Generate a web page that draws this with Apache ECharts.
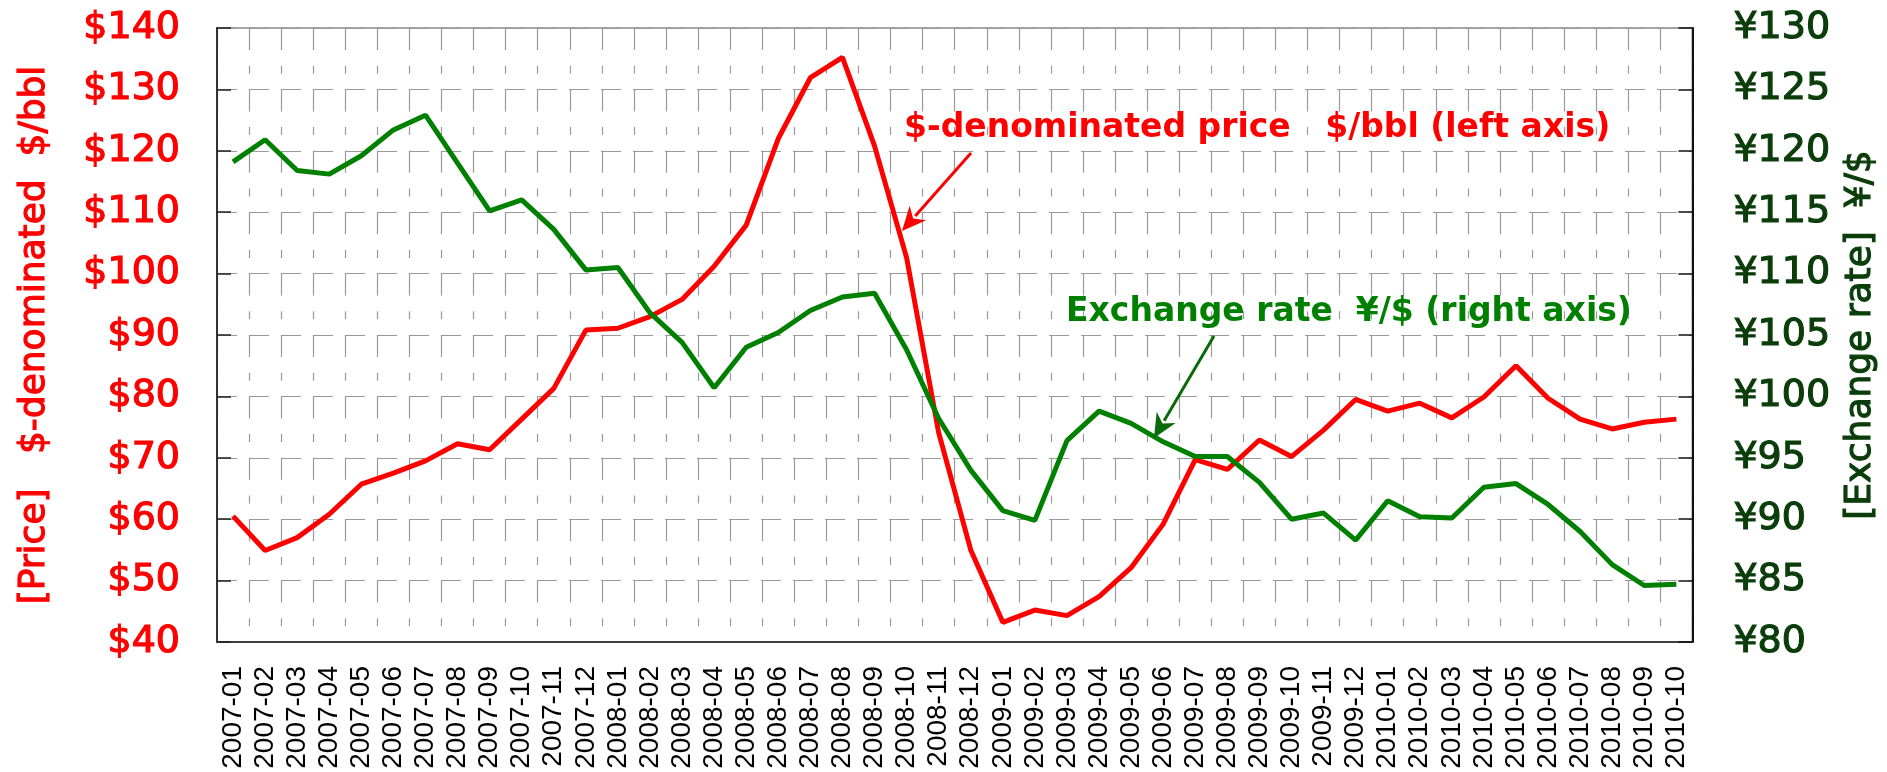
<!DOCTYPE html>
<html>
<head>
<meta charset="utf-8">
<script src="https://cdn.jsdelivr.net/npm/echarts@6/dist/echarts.min.js"></script>
<style>
  html, body { margin: 0; padding: 0; background: #fff; }
  #chart { width: 1887px; height: 772px; }
</style>
</head>
<body>
<div id="chart"></div>
<script>
// months on the x axis
var months = [
  "2007-01", "2007-02", "2007-03", "2007-04", "2007-05", "2007-06",
  "2007-07", "2007-08", "2007-09", "2007-10", "2007-11", "2007-12",
  "2008-01", "2008-02", "2008-03", "2008-04", "2008-05", "2008-06",
  "2008-07", "2008-08", "2008-09", "2008-10", "2008-11", "2008-12",
  "2009-01", "2009-02", "2009-03", "2009-04", "2009-05", "2009-06",
  "2009-07", "2009-08", "2009-09", "2009-10", "2009-11", "2009-12",
  "2010-01", "2010-02", "2010-03", "2010-04", "2010-05", "2010-06",
  "2010-07", "2010-08", "2010-09", "2010-10"
];

// $-denominated crude price, $/bbl (left axis)
var priceUsd = [
  60.5, 54.9, 57.0, 60.8, 65.7, 67.5, 69.5, 72.3, 71.3, 76.3, 81.3, 90.8,
  91.1, 93.0, 95.8, 101.2, 107.9, 122.0, 131.9, 135.2, 120.8, 102.6, 74.1, 55.0,
  43.2, 45.2, 44.3, 47.4, 52.1, 59.2, 69.7, 68.1, 72.9, 70.2, 74.5, 79.5,
  77.6, 78.9, 76.5, 79.9, 85.0, 79.7, 76.3, 74.7, 75.8, 76.3
];

// exchange rate, yen per dollar (right axis)
var yenPerUsd = [
  119.1, 120.9, 118.4, 118.1, 119.6, 121.7, 122.9, 119.0, 115.1, 116.0, 113.6, 110.3,
  110.5, 106.8, 104.4, 100.7, 104.0, 105.2, 107.0, 108.1, 108.4, 103.8, 98.2, 94.0,
  90.7, 89.9, 96.4, 98.8, 97.8, 96.3, 95.1, 95.1, 93.0, 90.0, 90.5, 88.3,
  91.5, 90.2, 90.1, 92.6, 92.9, 91.2, 89.0, 86.3, 84.6, 84.7
];

// axis ranges
var priceAxis = { min: 40, max: 140, step: 10 };
var rateAxis = { min: 80, max: 130, step: 5 };

var RED = "#ff0000";
var GREEN = "#008000";
var DARK_GREEN = "#0b3d0b";

// arrow = line + filled head (for the annotations)
function arrow(x1, y1, x2, y2, color) {
  var dx = x2 - x1, dy = y2 - y1;
  var len = Math.sqrt(dx * dx + dy * dy);
  var ux = dx / len, uy = dy / len;
  var headLen = 24, headW = 11;
  var bx = x2 - ux * headLen, by = y2 - uy * headLen;
  var nx = -uy, ny = ux;
  return [
    {
      type: "line",
      shape: { x1: x1, y1: y1, x2: bx + ux * 4, y2: by + uy * 4 },
      style: { stroke: color, lineWidth: 3 },
      z: 100
    },
    {
      type: "polygon",
      shape: {
        points: [
          [x2, y2],
          [bx + nx * headW, by + ny * headW],
          [x2 - ux * headLen * 0.7, y2 - uy * headLen * 0.7],
          [bx - nx * headW, by - ny * headW]
        ]
      },
      style: { fill: color },
      z: 100
    }
  ];
}

var myChart = echarts.init(document.getElementById("chart"));

var option = {
  animation: false,
  backgroundColor: "#fff",
  grid: {
    left: 217,
    right: 193,
    top: 28,
    bottom: 130,
    show: true,
    borderColor: "#a6a6a6",
    borderWidth: 2
  },
  xAxis: {
    type: "category",
    data: months,
    boundaryGap: true,
    axisLine: { lineStyle: { color: "#404040", width: 2 } },
    axisTick: {
      inside: true,
      length: 9,
      interval: 0,
      lineStyle: { color: "#404040", width: 1.5 }
    },
    axisLabel: {
      rotate: 90,
      interval: 0,
      margin: 24,
      color: "#000",
      fontSize: 28,
      fontFamily: "Liberation Sans"
    },
    splitLine: {
      show: true,
      interval: 0,
      lineStyle: { color: "#9a9a9a", width: 1.2, type: [22, 15.7, 8, 15.7] }
    }
  },
  yAxis: [
    {
      type: "value",
      position: "left",
      min: priceAxis.min,
      max: priceAxis.max,
      interval: priceAxis.step,
      name: "[Price]   $-denominated  $/bbl",
      nameLocation: "middle",
      nameGap: 164,
      nameTextStyle: {
        color: RED,
        fontSize: 36,
        fontFamily: "DejaVu Sans",
        textBorderColor: RED,
        textBorderWidth: 1.2
      },
      axisLine: { show: true, lineStyle: { color: "#333", width: 2 } },
      axisTick: { show: true, inside: true, length: 14, lineStyle: { color: "#222", width: 1.5 } },
      axisLabel: {
        margin: 37,
        color: RED,
        fontSize: 38,
        fontFamily: "DejaVu Sans",
        textBorderColor: RED,
        textBorderWidth: 1.2,
        formatter: function (v) { return "$" + v; }
      },
      splitLine: {
        show: true,
        lineStyle: { color: "#9a9a9a", width: 1.2, type: [20, 12] }
      }
    },
    {
      type: "value",
      position: "right",
      min: rateAxis.min,
      max: rateAxis.max,
      interval: rateAxis.step,
      name: "[Exchange rate]  ¥/$",
      nameLocation: "middle",
      nameRotate: 90,
      nameGap: 150,
      nameTextStyle: {
        color: DARK_GREEN,
        fontSize: 36,
        fontFamily: "DejaVu Sans",
        textBorderColor: DARK_GREEN,
        textBorderWidth: 1.2
      },
      axisLine: { show: true, lineStyle: { color: "#111", width: 2 } },
      axisTick: { show: true, inside: true, length: 14, lineStyle: { color: "#111", width: 1.5 } },
      axisLabel: {
        margin: 41,
        color: DARK_GREEN,
        fontSize: 38,
        fontFamily: "DejaVu Sans",
        textBorderColor: DARK_GREEN,
        textBorderWidth: 1.2,
        formatter: function (v) { return "¥" + v; }
      },
      splitLine: { show: false }
    }
  ],
  series: [
    {
      name: "price",
      type: "line",
      yAxisIndex: 0,
      data: priceUsd,
      symbol: "none",
      lineStyle: { color: RED, width: 5 },
      itemStyle: { color: RED },
      z: 3
    },
    {
      name: "rate",
      type: "line",
      yAxisIndex: 1,
      data: yenPerUsd,
      symbol: "none",
      lineStyle: { color: GREEN, width: 5 },
      itemStyle: { color: GREEN },
      z: 4
    }
  ],
  graphic: [
    {
      type: "text",
      x: 904,
      y: 128,
      z: 100,
      style: {
        text: "$-denominated price   $/bbl (left axis)",
        fill: RED,
        fontSize: 33,
        fontWeight: "bold",
        fontFamily: "DejaVu Sans",
        align: "left",
        verticalAlign: "middle"
      }
    },
    {
      type: "text",
      x: 1066,
      y: 312,
      z: 100,
      style: {
        text: "Exchange rate  ¥/$ (right axis)",
        fill: GREEN,
        fontSize: 33,
        fontWeight: "bold",
        fontFamily: "DejaVu Sans",
        align: "left",
        verticalAlign: "middle"
      }
    }
  ]
    .concat(arrow(971, 153, 902, 231, RED))
    .concat(arrow(1214, 336, 1154, 438, "#0a6a0a"))
};

myChart.setOption(option);
window.addEventListener("resize", function () {
  myChart.resize();
});
</script>
</body>
</html>
